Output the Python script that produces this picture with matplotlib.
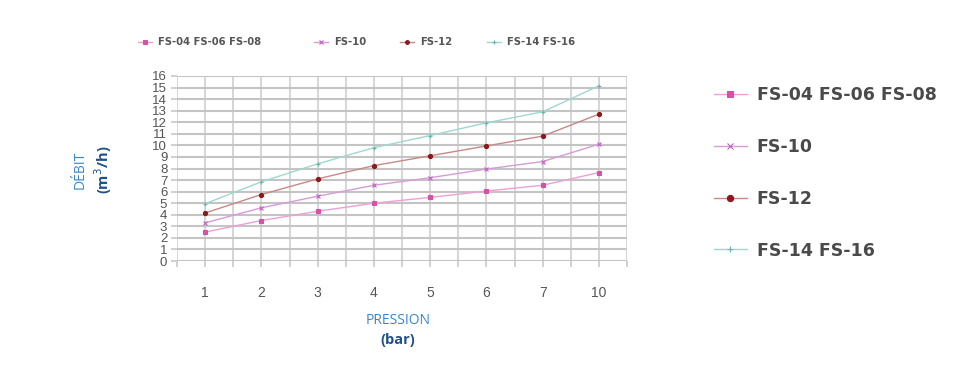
import matplotlib
matplotlib.use("Agg")
import matplotlib.pyplot as plt
from matplotlib.ticker import MultipleLocator

# ---- data ----
pressures = ["1", "2", "3", "4", "5", "6", "7", "10"]
fs04 = [2.5, 3.5, 4.3, 5.0, 5.5, 6.05, 6.55, 7.65]
fs10 = [3.3, 4.6, 5.6, 6.55, 7.2, 7.95, 8.6, 10.1]
fs12 = [4.15, 5.75, 7.1, 8.25, 9.1, 9.95, 10.8, 12.7]
fs14 = [4.95, 6.85, 8.4, 9.8, 10.85, 11.95, 12.9, 15.15]
series_labels = ["FS-04 FS-06 FS-08", "FS-10", "FS-12", "FS-14 FS-16"]
y_ticks = list(range(0, 17))

fig = plt.figure(figsize=(9.65, 3.79), dpi=100)
W, H = 965, 379
ax = fig.add_axes([177 / W, 1 - 261 / H, (627 - 177) / W, (261 - 76) / H])

x = list(range(len(pressures)))
styles = [
    dict(color="#eea0d4", marker="s", markersize=3.2, mfc="#d452a8", mec="#d452a8"),
    dict(color="#d89ad8", marker="x", markersize=3, mfc="#c060c0", mec="#c060c0"),
    dict(color="#c88888", marker="o", markersize=3, mfc="#8b1a1a", mec="#8b1a1a"),
    dict(color="#9fd8d0", marker="+", markersize=3, mfc="#60b8b0", mec="#60b8b0"),
]
lines = []
for vals, lab, st in zip([fs04, fs10, fs12, fs14], series_labels, styles):
    ln, = ax.plot(x, vals, lw=1.0, label=lab, markeredgewidth=0.8, **st)
    lines.append(ln)

ax.set_xlim(-0.5, len(pressures) - 0.5)
ax.set_ylim(0, 16)
ax.set_xticks(x)
ax.set_xticklabels(pressures)
ax.xaxis.set_minor_locator(MultipleLocator(0.5))
ax.set_yticks(y_ticks)
ax.set_yticklabels([str(v) for v in y_ticks])
for s in ax.spines.values():
    s.set_visible(False)
ax.grid(True, which="both", axis="x", color="#d2d2d2", lw=1.3)
ax.grid(True, which="major", axis="y", color="#c4c4c4", lw=1.5)
ax.set_axisbelow(True)
ax.tick_params(axis="x", which="both", length=4, color="#c8c8c8", width=1.2,
               labelsize=10, labelcolor="#555555", pad=14)
ax.tick_params(axis="y", which="major", length=4, color="#c8c8c8", width=1.2,
               labelsize=9, labelcolor="#555555", pad=3)
for t in ax.get_xticklabels() + ax.get_yticklabels():
    t.set_fontfamily("Liberation Sans")
for t in ax.get_yticklabels():
    t.set_fontsize(9.5)

# axis titles
fig.text(80 / W, 1 - 170 / H, "DÉBIT", rotation=90, ha="center", va="center",
         color="#3a86c8", fontsize=10, family="Open Sans")
fig.text(103 / W, 1 - 170 / H, "(m$^3$/h)", rotation=90, ha="center", va="center",
         color="#1d4f8c", fontsize=10.5, family="Open Sans", fontweight="bold")
fig.text(398 / W, 1 - 321 / H, "PRESSION", ha="center", va="center",
         color="#3a86c8", fontsize=10, family="Open Sans")
fig.text(398 / W, 1 - 340 / H, "(bar)", ha="center", va="center",
         color="#1d4f8c", fontsize=10.5, family="Open Sans", fontweight="bold")

# top legends (one per entry)
top_x = [138, 314, 400, 487]
for ln, xx in zip(lines, top_x):
    lg = fig.legend(handles=[ln], loc="center left", bbox_to_anchor=(xx / W, 1 - 42 / H),
                    frameon=False, handlelength=1.4, handletextpad=0.6,
                    borderpad=0, borderaxespad=0, markerscale=0.9,
                    prop=dict(family="DejaVu Sans", weight="bold", size=7.2))
    for t in lg.get_texts():
        t.set_color("#555555")

# right legend
lg2 = fig.legend(handles=lines, loc="upper left", bbox_to_anchor=(714 / W, 1 - 86 / H),
                 frameon=False, handlelength=1.9, handletextpad=0.55, labelspacing=1.95,
                 borderpad=0, borderaxespad=0, markerscale=1.5,
                 prop=dict(family="DejaVu Sans", weight="bold", size=12.5))
for t in lg2.get_texts():
    t.set_color("#4a4a4a")

fig.savefig("out.png", dpi=100)
